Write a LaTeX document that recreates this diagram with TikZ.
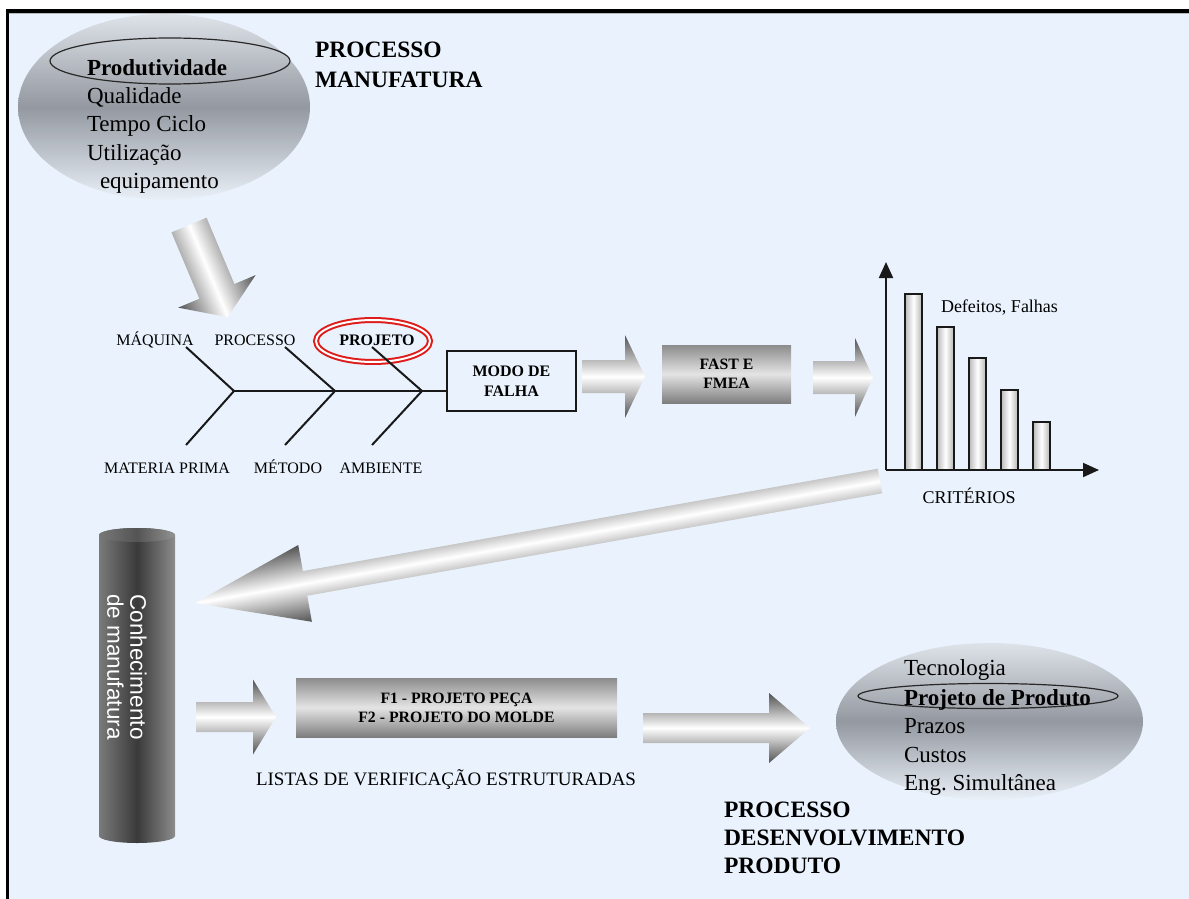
\documentclass[tikz,border=0pt]{standalone}
\usepackage{fontspec}
\setmainfont{Liberation Serif}
\setsansfont{Liberation Sans}
\usetikzlibrary{arrows.meta}

\definecolor{bgblue}{RGB}{234,243,253}
\definecolor{ellTop}{RGB}{222,227,233}
\definecolor{ellMid}{RGB}{148,153,161}
\definecolor{ellBot}{RGB}{234,240,247}
\definecolor{ellLine}{RGB}{40,40,40}
\definecolor{arrDark}{RGB}{82,82,82}
\definecolor{boxDark}{RGB}{140,140,140}
\definecolor{boxLight}{RGB}{228,228,228}
\definecolor{cylEdgeL}{RGB}{122,122,122}
\definecolor{cylMid}{RGB}{58,58,58}
\definecolor{cylEdgeR}{RGB}{140,140,140}
\definecolor{cylCap}{RGB}{120,120,120}
\definecolor{projred}{RGB}{222,28,28}
\definecolor{inkline}{RGB}{25,25,25}

% block arrow along its own axis: tail (x,y), angle, length, head length, shaft width, head width
\newcommand\blkarrow[7]{%
  \begin{scope}[transform canvas={shift={(#1,#2)},rotate=#3}]
    \shade[top color=arrDark, bottom color=arrDark, middle color=white]
      (0,-#6/2) -- ({#4-#5},-#6/2) -- ({#4-#5},-#7/2) -- (#4,0)
      -- ({#4-#5},#7/2) -- ({#4-#5},#6/2) -- (0,#6/2) -- cycle;
  \end{scope}}

\begin{document}
\begin{tikzpicture}[x=1pt,y=-1pt,
  every node/.style={inner sep=0pt, outer sep=0pt},
  listtext/.style={anchor=base west, font=\fontsize{23}{28}\selectfont},
  listbold/.style={anchor=base west, font=\bfseries\fontsize{23}{28}\selectfont},
  heading/.style={anchor=base west, font=\bfseries\fontsize{23.5}{28}\selectfont},
  bonelabel/.style={anchor=base, font=\fontsize{16}{19}\selectfont},
  bone/.style={line width=2, inkline},
  ellshade/.style={top color=ellTop, bottom color=ellBot, middle color=ellMid},
  gradbox/.style={top color=boxDark, bottom color=boxDark!90!black, middle color=boxLight,
    font=\bfseries\fontsize{15.8}{19}\selectfont, align=center},
  bar/.style={draw=inkline, line width=1.8, left color=gray!55, right color=gray!60, middle color=white},
  axis/.style={line width=2, inkline, -{Triangle[length=16pt,width=14pt]}},
  charttext/.style={font=\fontsize{18}{22}\selectfont},
  innerell/.style={draw=ellLine, line width=1.2}
]
\useasboundingbox (0,0) rectangle (1189,899);

% frame and background
\fill[white] (0,0) rectangle (1189,899);
\fill[bgblue] (9,13) rectangle (1189,899);
\fill[black] (6,9) rectangle (1189,13);
\fill[black] (6,9) rectangle (9,899);
\fill[gray!55] (9,13) rectangle (1189,14.5);

% manufacturing process ellipse
\shade[ellshade] (164,107) ellipse [x radius=146, y radius=93];
\draw[innerell] (170,61) ellipse [x radius=120, y radius=23];
\node[listbold] (prod) at (87,75) {Produtividade};
\node[listtext] (qual) at (87,103) {Qualidade};
\node[listtext] (tempo) at (87,131) {Tempo Ciclo};
\node[listtext] (util) at (87,160) {Utilização};
\node[listtext] (equip) at (100,188) {equipamento};
\node[heading] (pm1) at (315,58) {PROCESSO};
\node[heading] (pm2) at (315,88) {MANUFATURA};

% arrow from the ellipse down to the fishbone
\blkarrow{189}{225}{-67.2}{100}{28}{38}{84}

% fishbone
\draw[draw=projred, line width=2, double=white, double distance=2]
  (373,341) ellipse [x radius=57, y radius=21];
\node[draw=inkline, line width=2, minimum width=129, minimum height=60,
  font=\bfseries\fontsize{16}{20}\selectfont, align=center] (modo) at (511.5,381) {MODO DE\\FALHA};
\coordinate (j1) at (234,391);
\coordinate (j2) at (335,391);
\coordinate (j3) at (422,391);
\coordinate (u1) at (186,347);
\coordinate (u2) at (285,347);
\coordinate (u3) at (372,347);
\coordinate (d1) at (186,445);
\coordinate (d2) at (285,445);
\coordinate (d3) at (372,445);
\draw[bone] (j1) -- (modo.west |- j1);
\draw[bone] (u1) -- (j1) -- (d1);
\draw[bone] (u2) -- (j2) -- (d2);
\draw[bone] (u3) -- (j3) -- (d3);
\node[bonelabel] (maq) at (155,345) {MÁQUINA};
\node[bonelabel] (proc) at (255,345) {PROCESSO};
\node[bonelabel, font=\bfseries\fontsize{16}{19}\selectfont] (proj) at (377,345) {PROJETO};
\node[bonelabel] (mat) at (167,473) {MATERIA PRIMA};
\node[bonelabel] (met) at (288,473) {MÉTODO};
\node[bonelabel] (amb) at (381,473) {AMBIENTE};

% FAST and FMEA
\blkarrow{582}{376.5}{0}{63}{20}{33}{83}
\node[gradbox, minimum width=129, minimum height=58] (fast) at (726.5,374) {FAST E\\FMEA};
\blkarrow{813}{377.5}{0}{60}{18}{33}{79}

% Pareto chart
\coordinate (orig) at (886,470);
\coordinate (ytip) at (886,262);
\coordinate (xtip) at (1099,470);
\foreach \bx/\by in {905/294, 937/327, 969/358, 1001/390, 1033/422}
  \shade[bar] (\bx,\by) rectangle ({\bx+17},470);
\draw[axis] (orig) -- (ytip);
\draw[axis] (orig) -- (xtip);
\node[charttext, anchor=base west] (def) at (941,312) {Defeitos, Falhas};
\node[charttext, anchor=base] (crit) at (969,503) {CRITÉRIOS};

% long return arrow
\blkarrow{880}{481}{190.1}{696}{112}{25}{78}

% knowledge cylinder
\shade[left color=cylEdgeL, right color=cylEdgeR, middle color=cylMid]
  (99,535) -- (99,836) arc[start angle=180, end angle=0, x radius=38, y radius=7]
  -- (175,535) arc[start angle=0, end angle=-180, x radius=38, y radius=7] -- cycle;
\shade[left color=cylCap, right color=cylCap!80!white, middle color=cylCap!70!black]
  (137,535) ellipse [x radius=38, y radius=7];
\node[rotate=-90, text=white, font=\sffamily\fontsize{22.5}{23}\selectfont, align=left]
  (know) at (127,667) {Conhecimento\\de manufatura};

% checklists
\blkarrow{196}{717}{0}{80}{23}{30}{75}
\node[gradbox, minimum width=321, minimum height=59] (f1) at (456.5,707.5)
  {F1 - PROJETO PEÇA\\F2 - PROJETO DO MOLDE};
\node[anchor=base west, font=\fontsize{19}{23}\selectfont] (listas) at (256,785)
  {LISTAS DE VERIFICAÇÃO ESTRUTURADAS};
\blkarrow{643}{728}{0}{167}{41}{30}{70}

% product development ellipse
\shade[ellshade] (989.5,721.5) ellipse [x radius=153.5, y radius=78.5];
\draw[innerell] (988,696) ellipse [x radius=130, y radius=12.5];
\node[listtext] (tec) at (904,675) {Tecnologia};
\node[listbold] (projprod) at (904,705) {Projeto de Produto};
\node[listtext] (prazos) at (904,733) {Prazos};
\node[listtext] (custos) at (904,762) {Custos};
\node[listtext] (eng) at (904,790) {Eng.\ Simultânea};
\node[heading] (pd1) at (724,817) {PROCESSO};
\node[heading] (pd2) at (724,845) {DESENVOLVIMENTO};
\node[heading] (pd3) at (724,873) {PRODUTO};
\end{tikzpicture}
\end{document}
